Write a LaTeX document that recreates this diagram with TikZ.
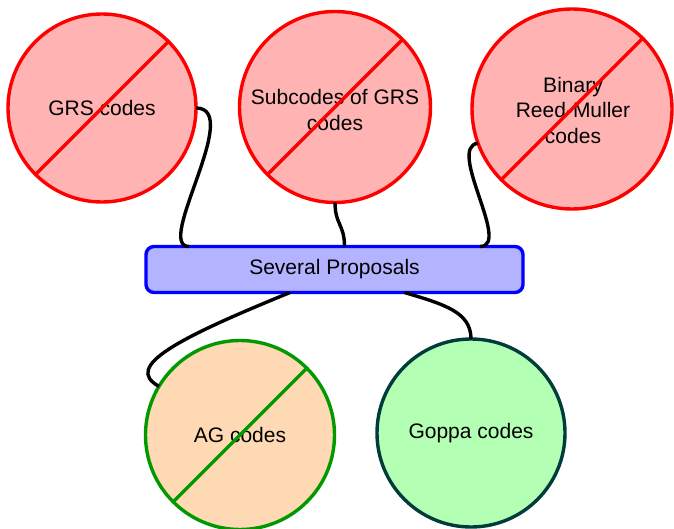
\documentclass[tikz,border=0pt]{standalone}
\usepackage{fontspec}
\setmainfont{Liberation Sans}
\definecolor{pinkfill}{RGB}{255,179,179}
\definecolor{redline}{RGB}{255,0,0}
\definecolor{peach}{RGB}{255,217,179}
\definecolor{agreen}{RGB}{0,153,0}
\definecolor{lgreen}{RGB}{179,255,179}
\definecolor{teal}{RGB}{0,60,60}
\definecolor{boxfill}{RGB}{179,179,255}
\definecolor{boxline}{RGB}{0,0,255}
\begin{document}
\begin{tikzpicture}[x=1pt,y=-1pt,
  every node/.style={font=\fontsize{21}{25.5}\selectfont, align=center, inner sep=0pt, outer sep=0pt},
  codecirc/.style={circle, line width=3.4pt, minimum size=#1},
  badcode/.style={codecirc=#1, draw=redline, fill=pinkfill},
  agcode/.style={codecirc=#1, draw=agreen, fill=peach},
  goodcode/.style={codecirc=#1, draw=teal, fill=lgreen},
  propbox/.style={rounded corners=8pt, line width=3.4pt, draw=boxline, fill=boxfill, minimum width=377pt, minimum height=46pt},
  conn/.style={line width=3.4pt, black},
  slash/.style={line width=3.4pt}]
\useasboundingbox (0,0) rectangle (674,529);

\node[badcode=188pt] (grs) at (102,108) {GRS codes};
\node[badcode=191pt] (sub) at (335,107) {};
\node at (335,110) {Subcodes of GRS\\codes};
\node[badcode=200pt] (bin) at (572,109) {};
\node at (573,110) {Binary\\Reed-Muller\\codes};
\node[agcode=189pt] (ag) at (240,435) {AG codes};
\node[goodcode=188pt] (goppa) at (471,433) {Goppa codes};
\node[propbox] (box) at (334.5,269.5) {Several Proposals};

\draw[slash, redline] (grs.225) -- (grs.45);
\draw[slash, redline] (sub.225) -- (sub.45);
\draw[slash, redline] (bin.225) -- (bin.45);
\draw[slash, agreen] (ag.225) -- (ag.45);

\draw[conn] (grs.east) .. controls +(48,0) and +(-35,0) .. ([xshift=43pt]box.north west);
\draw[conn] (sub.south) .. controls +(0,22) and +(0,-22) .. ([xshift=10pt]box.north);
\draw[conn] (bin.200) .. controls +(-32,4) and +(32,0) .. ([xshift=-43pt]box.north east);
\draw[conn] ([xshift=-44.5pt]box.south) .. controls +(-110,45) and +(-37,-20) .. (ag.149);
\draw[conn] ([xshift=70pt]box.south) .. controls +(40,12) and +(0,-27) .. (goppa.north);
\end{tikzpicture}
\end{document}
